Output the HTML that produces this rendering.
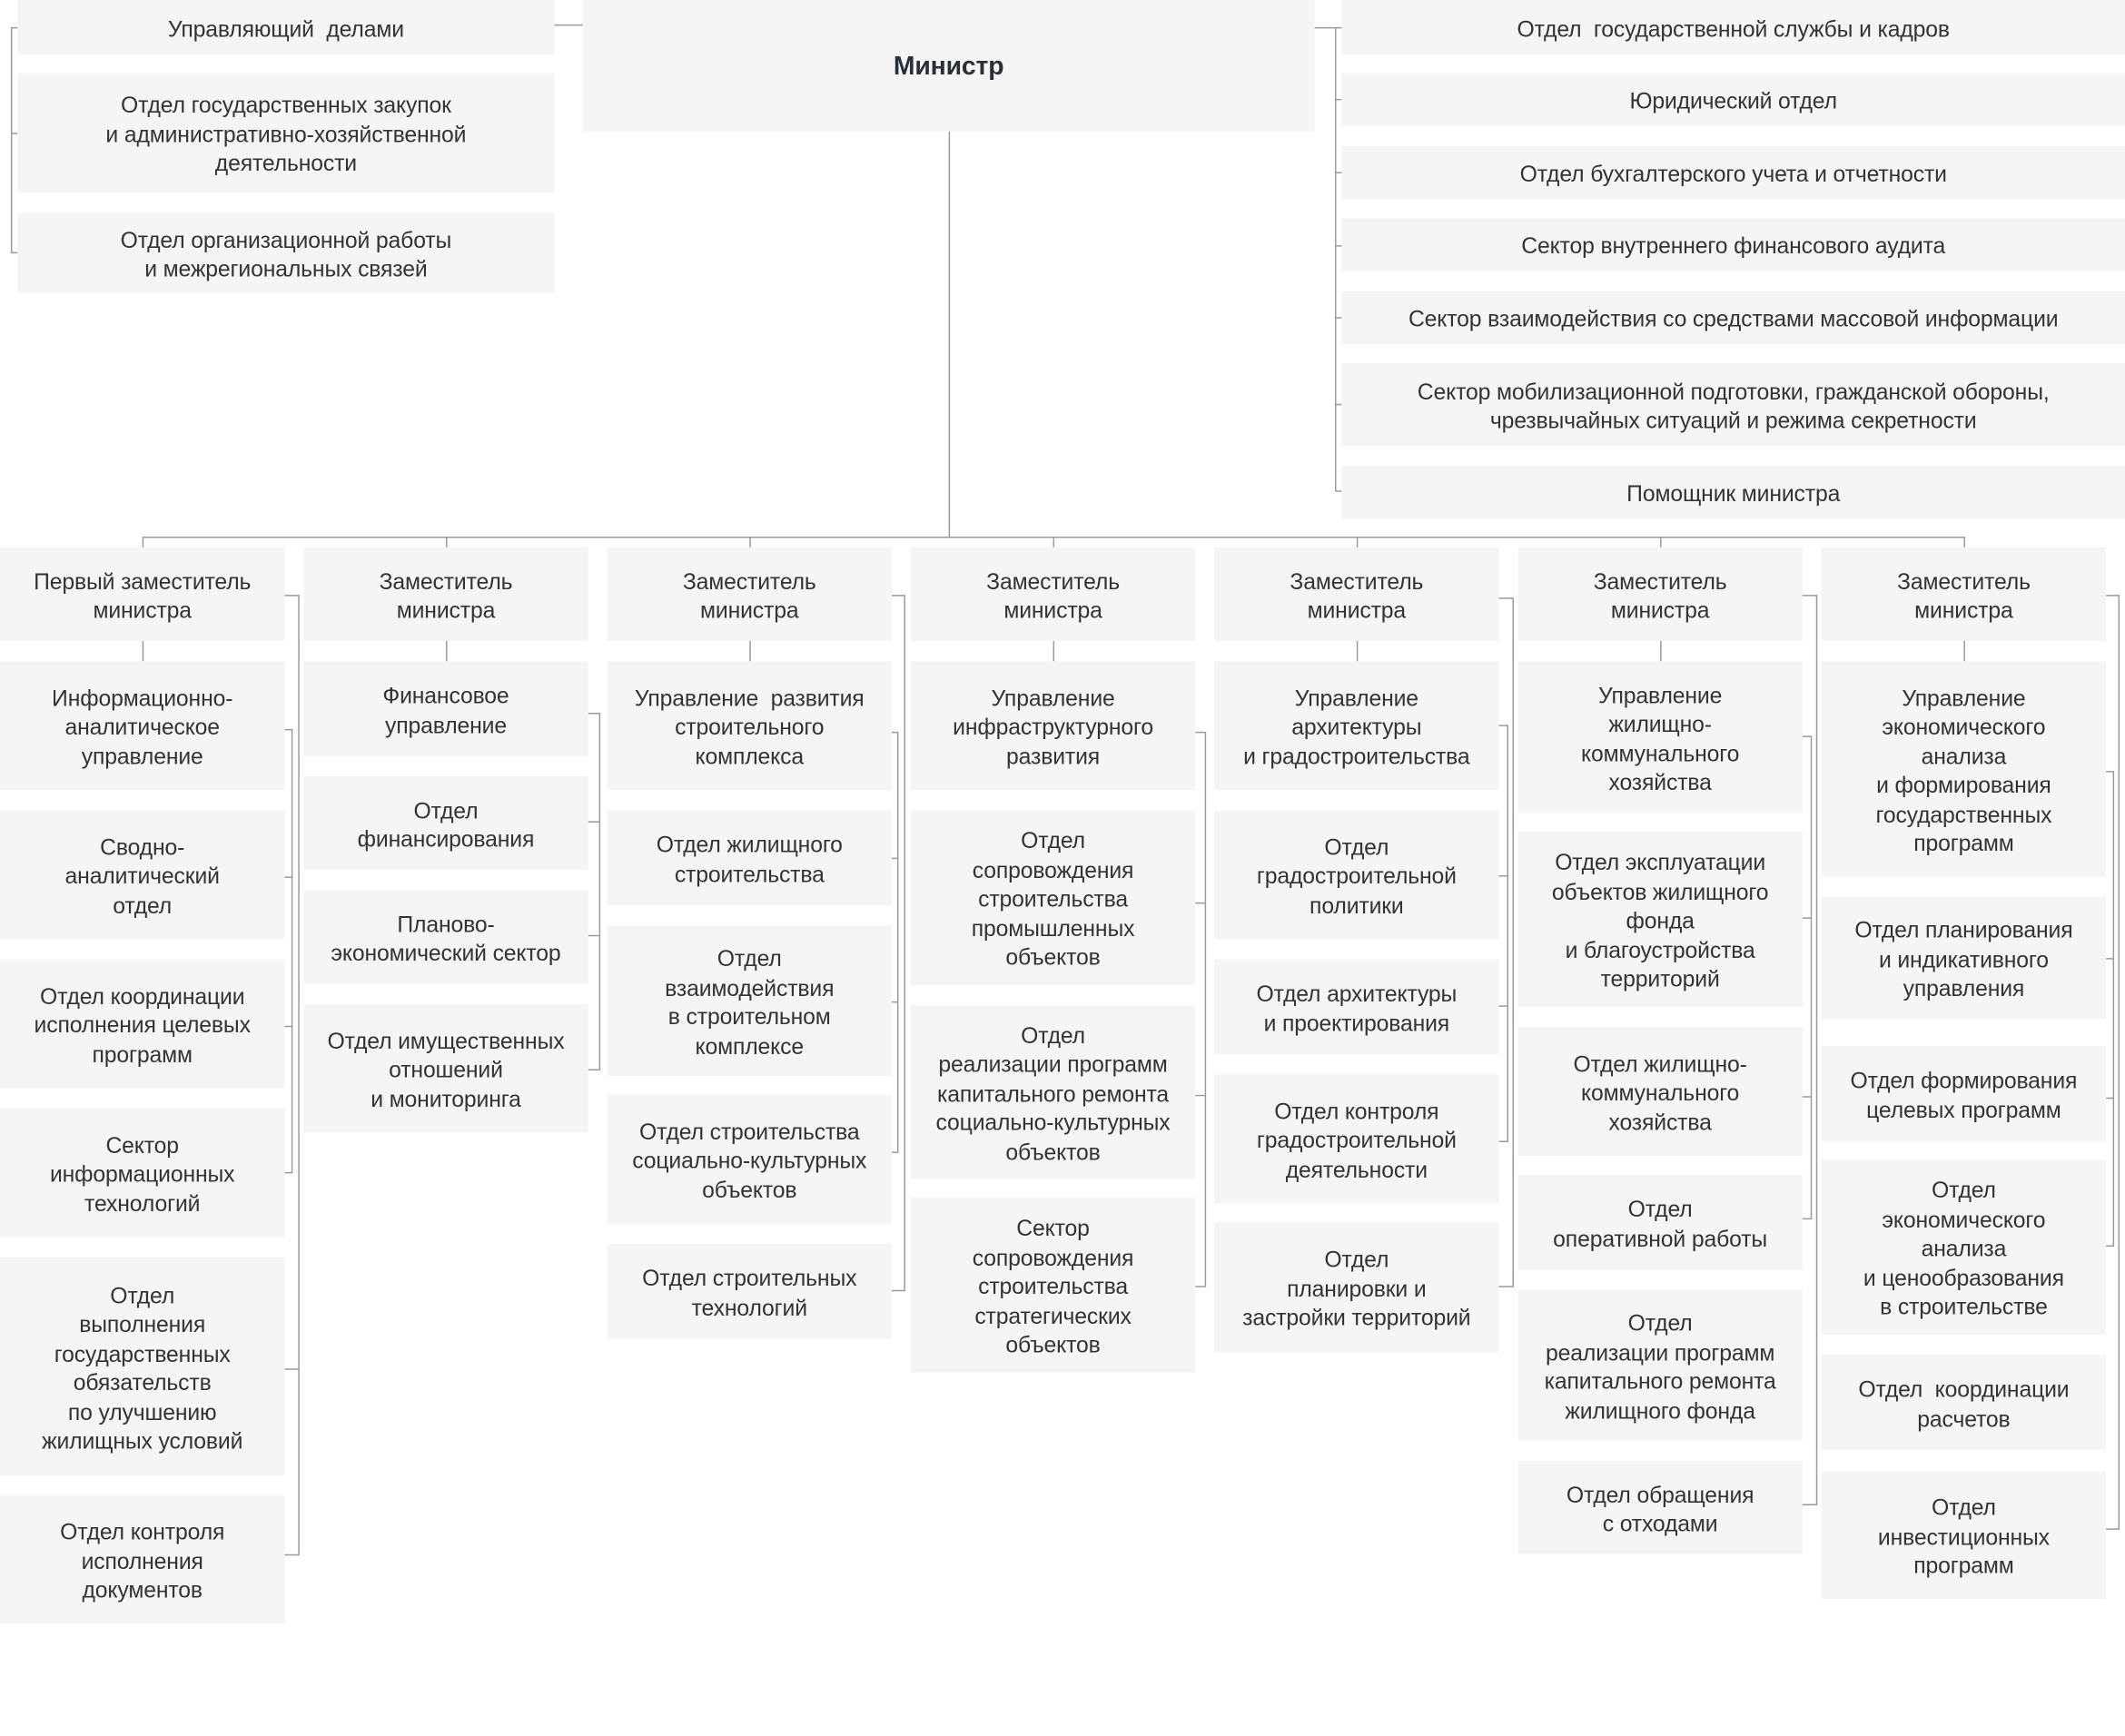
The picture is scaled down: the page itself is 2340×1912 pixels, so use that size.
<!DOCTYPE html>
<html><head><meta charset="utf-8">
<style>
html,body{margin:0;padding:0;background:#fff;}
body{width:2340px;height:1912px;overflow:hidden;position:relative;}
#c{position:absolute;left:0;top:0;width:1568px;height:1281px;transform:scale(1.49235);transform-origin:0 0;}
.b{position:absolute;background:#f5f5f5;display:flex;align-items:center;justify-content:center;text-align:center;box-sizing:border-box;padding-top:3px;
font-family:"Liberation Sans",sans-serif;font-size:16.6px;line-height:21.5px;color:#333;letter-spacing:-0.1px;}
.m{font-size:19px;font-weight:bold;color:#2b2f3a;}
svg{position:absolute;left:0;top:0;}
</style></head><body><div id="c">
<svg width="1568" height="1281" fill="none" stroke="#9a9a9a" stroke-width="1">
<path d="M430,18.5H409 M13,20.5H8.5V186.5H13 M8.5,98.5H13"/>
<path d="M970,20.5H985.5 M985.5,20V362.5 M985.5,20.5H990 M985.5,73.5H990 M985.5,127.5H990 M985.5,181.5H990 M985.5,234.5H990 M985.5,298.5H990 M985.5,362.5H990"/>
<path d="M700.5,97V396.5 M105.5,396.5H1449.5 M105.5,396V404 M329.5,396V404 M553.5,396V404 M777.5,396V404 M1001.5,396V404 M1225.5,396V404 M1449.5,396V404"/>
<path d="M105.5,473V488 M329.5,473V488 M553.5,473V488 M777.5,473V488 M1001.5,473V488 M1225.5,473V488 M1449.5,473V488"/>
<path d="M210,439.5H220.5V1147.5H210 M220.5,1010.5H210 M210,538.5H215.5V865.5H210 M215.5,647.5H210 M215.5,757.5H210"/>
<path d="M434,526.5H442.5V789.5H434 M442.5,606.5H434 M442.5,690.5H434"/>
<path d="M658,439.5H667.5V952.5H658 M658,540.5H662.5V850.5H658 M662.5,633.5H658 M662.5,739.5H658"/>
<path d="M882,540.5H889.5V949.5H882 M889.5,666.5H882 M889.5,808.5H882"/>
<path d="M1106,441.5H1116.5V949.5H1106 M1106,535.5H1112.5V842.5H1106 M1112.5,646.5H1106 M1112.5,742.5H1106"/>
<path d="M1330,439.5H1340.5V1110.5H1330 M1330,543.5H1336.5V899.5H1330 M1336.5,677.5H1330 M1336.5,809.5H1330"/>
<path d="M1554,439.5H1563.5V1128.5H1554 M1554,569.5H1559.5V919.5H1554 M1559.5,707.5H1554 M1559.5,810.5H1554"/>
</svg>

<div class="b" style="left:13px;top:0;width:396px;height:40px">Управляющий&nbsp; делами</div>
<div class="b" style="left:13px;top:54px;width:396px;height:88px">Отдел государственных закупок<br>и административно-хозяйственной<br>деятельности</div>
<div class="b" style="left:13px;top:157px;width:396px;height:59px">Отдел организационной работы<br>и межрегиональных связей</div>
<div class="b m" style="left:430px;top:0;width:540px;height:97px">Министр</div>

<div class="b" style="left:990px;top:0;width:578px;height:40px">Отдел&nbsp; государственной службы и кадров</div>
<div class="b" style="left:990px;top:54px;width:578px;height:39px">Юридический отдел</div>
<div class="b" style="left:990px;top:108px;width:578px;height:39px">Отдел бухгалтерского учета и отчетности</div>
<div class="b" style="left:990px;top:161px;width:578px;height:39px">Сектор внутреннего финансового аудита</div>
<div class="b" style="left:990px;top:215px;width:578px;height:39px">Сектор взаимодействия со средствами массовой информации</div>
<div class="b" style="left:990px;top:268px;width:578px;height:61px">Сектор мобилизационной подготовки, гражданской обороны,<br>чрезвычайных ситуаций и режима секретности</div>
<div class="b" style="left:990px;top:344px;width:578px;height:39px">Помощник министра</div>

<div class="b" style="left:0;top:404px;width:210px;height:69px">Первый заместитель<br>министра</div>
<div class="b" style="left:0;top:488px;width:210px;height:95px">Информационно-<br>аналитическое<br>управление</div>
<div class="b" style="left:0;top:598px;width:210px;height:95px">Сводно-<br>аналитический<br>отдел</div>
<div class="b" style="left:0;top:708px;width:210px;height:95px">Отдел координации<br>исполнения целевых<br>программ</div>
<div class="b" style="left:0;top:818px;width:210px;height:95px">Сектор<br>информационных<br>технологий</div>
<div class="b" style="left:0;top:928px;width:210px;height:161px">Отдел<br>выполнения<br>государственных<br>обязательств<br>по улучшению<br>жилищных условий</div>
<div class="b" style="left:0;top:1104px;width:210px;height:94px">Отдел контроля<br>исполнения<br>документов</div>

<div class="b" style="left:224px;top:404px;width:210px;height:69px">Заместитель<br>министра</div>
<div class="b" style="left:224px;top:488px;width:210px;height:70px">Финансовое<br>управление</div>
<div class="b" style="left:224px;top:573px;width:210px;height:69px">Отдел<br>финансирования</div>
<div class="b" style="left:224px;top:657px;width:210px;height:69px">Планово-<br>экономический сектор</div>
<div class="b" style="left:224px;top:741px;width:210px;height:95px">Отдел имущественных<br>отношений<br>и мониторинга</div>

<div class="b" style="left:448px;top:404px;width:210px;height:69px">Заместитель<br>министра</div>
<div class="b" style="left:448px;top:488px;width:210px;height:95px">Управление&nbsp; развития<br>строительного<br>комплекса</div>
<div class="b" style="left:448px;top:598px;width:210px;height:70px">Отдел жилищного<br>строительства</div>
<div class="b" style="left:448px;top:683px;width:210px;height:111px">Отдел<br>взаимодействия<br>в строительном<br>комплексе</div>
<div class="b" style="left:448px;top:808px;width:210px;height:95px">Отдел строительства<br>социально-культурных<br>объектов</div>
<div class="b" style="left:448px;top:918px;width:210px;height:70px">Отдел строительных<br>технологий</div>

<div class="b" style="left:672px;top:404px;width:210px;height:69px">Заместитель<br>министра</div>
<div class="b" style="left:672px;top:488px;width:210px;height:95px">Управление<br>инфраструктурного<br>развития</div>
<div class="b" style="left:672px;top:598px;width:210px;height:129px">Отдел<br>сопровождения<br>строительства<br>промышленных<br>объектов</div>
<div class="b" style="left:672px;top:742px;width:210px;height:128px">Отдел<br>реализации программ<br>капитального ремонта<br>социально-культурных<br>объектов</div>
<div class="b" style="left:672px;top:884px;width:210px;height:129px">Сектор<br>сопровождения<br>строительства<br>стратегических<br>объектов</div>

<div class="b" style="left:896px;top:404px;width:210px;height:69px">Заместитель<br>министра</div>
<div class="b" style="left:896px;top:488px;width:210px;height:95px">Управление<br>архитектуры<br>и градостроительства</div>
<div class="b" style="left:896px;top:598px;width:210px;height:95px">Отдел<br>градостроительной<br>политики</div>
<div class="b" style="left:896px;top:708px;width:210px;height:70px">Отдел архитектуры<br>и проектирования</div>
<div class="b" style="left:896px;top:793px;width:210px;height:95px">Отдел контроля<br>градостроительной<br>деятельности</div>
<div class="b" style="left:896px;top:902px;width:210px;height:96px">Отдел<br>планировки и<br>застройки территорий</div>

<div class="b" style="left:1120px;top:404px;width:210px;height:69px">Заместитель<br>министра</div>
<div class="b" style="left:1120px;top:488px;width:210px;height:112px">Управление<br>жилищно-<br>коммунального<br>хозяйства</div>
<div class="b" style="left:1120px;top:614px;width:210px;height:129px">Отдел эксплуатации<br>объектов жилищного<br>фонда<br>и благоустройства<br>территорий</div>
<div class="b" style="left:1120px;top:758px;width:210px;height:95px">Отдел жилищно-<br>коммунального<br>хозяйства</div>
<div class="b" style="left:1120px;top:867px;width:210px;height:70px">Отдел<br>оперативной работы</div>
<div class="b" style="left:1120px;top:952px;width:210px;height:111px">Отдел<br>реализации программ<br>капитального ремонта<br>жилищного фонда</div>
<div class="b" style="left:1120px;top:1078px;width:210px;height:69px">Отдел обращения<br>с отходами</div>

<div class="b" style="left:1344px;top:404px;width:210px;height:69px">Заместитель<br>министра</div>
<div class="b" style="left:1344px;top:488px;width:210px;height:159px">Управление<br>экономического<br>анализа<br>и формирования<br>государственных<br>программ</div>
<div class="b" style="left:1344px;top:662px;width:210px;height:90px">Отдел планирования<br>и индикативного<br>управления</div>
<div class="b" style="left:1344px;top:772px;width:210px;height:70px">Отдел формирования<br>целевых программ</div>
<div class="b" style="left:1344px;top:856px;width:210px;height:129px">Отдел<br>экономического<br>анализа<br>и ценообразования<br>в строительстве</div>
<div class="b" style="left:1344px;top:1000px;width:210px;height:70px">Отдел&nbsp; координации<br>расчетов</div>
<div class="b" style="left:1344px;top:1086px;width:210px;height:94px">Отдел<br>инвестиционных<br>программ</div>
</div></body></html>
